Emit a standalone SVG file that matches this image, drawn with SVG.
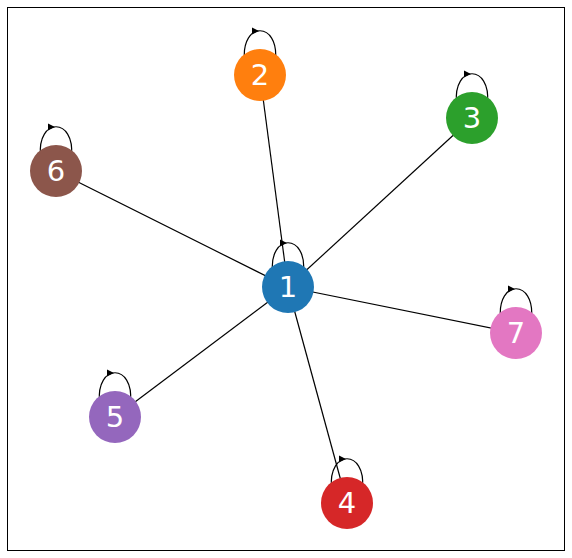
<svg xmlns="http://www.w3.org/2000/svg" width="572" height="558" viewBox="0 0 572 558">
<defs>
<style>
.edge{stroke:#000;stroke-width:1.2;fill:none}
.loop{stroke:#000;stroke-width:1.2;fill:none}
.lbl{font-family:"DejaVu Sans",sans-serif;font-size:29px;fill:#fff;text-anchor:middle;dominant-baseline:central}
</style>
<path id="loop" class="loop" d="M -15.5,-15 C -19,-54 19,-54 15.5,-15"/>
<path id="ah" d="M -7,-3.5 L 0,0 L -7,3.5 Z" fill="#000"/>
</defs>
<rect x="7.5" y="7.5" width="557" height="543" fill="#fff" stroke="#000" stroke-width="1"/>
<g id="connectors">
<line class="edge" x1="288" y1="287" x2="260" y2="75"/>
<line class="edge" x1="288" y1="287" x2="472" y2="118"/>
<line class="edge" x1="288" y1="287" x2="347" y2="503"/>
<line class="edge" x1="288" y1="287" x2="115" y2="417"/>
<line class="edge" x1="288" y1="287" x2="56" y2="171"/>
<line class="edge" x1="288" y1="287" x2="516" y2="333"/>
<g transform="translate(288,287)"><use href="#loop"/><use href="#ah" transform="translate(-1,-44)"/></g>
<g transform="translate(260,75)"><use href="#loop"/><use href="#ah" transform="translate(-1,-44)"/></g>
<g transform="translate(472,118)"><use href="#loop"/><use href="#ah" transform="translate(-1,-44)"/></g>
<g transform="translate(347,503)"><use href="#loop"/><use href="#ah" transform="translate(-1,-44)"/></g>
<g transform="translate(115,417)"><use href="#loop"/><use href="#ah" transform="translate(-1,-44)"/></g>
<g transform="translate(56,171)"><use href="#loop"/><use href="#ah" transform="translate(-1,-44)"/></g>
<g transform="translate(516,333)"><use href="#loop"/><use href="#ah" transform="translate(-1,-44)"/></g>
</g>
<g id="node1"><circle cx="288" cy="287" r="26" fill="#1f77b4"/><text class="lbl" x="288" y="287">1</text></g>
<g id="node2"><circle cx="260" cy="75" r="26" fill="#ff7f0e"/><text class="lbl" x="260" y="75">2</text></g>
<g id="node3"><circle cx="472" cy="118" r="26" fill="#2ca02c"/><text class="lbl" x="472" y="118">3</text></g>
<g id="node4"><circle cx="347" cy="503" r="26" fill="#d62728"/><text class="lbl" x="347" y="503">4</text></g>
<g id="node5"><circle cx="115" cy="417" r="26" fill="#9467bd"/><text class="lbl" x="115" y="417">5</text></g>
<g id="node6"><circle cx="56" cy="171" r="26" fill="#8c564b"/><text class="lbl" x="56" y="171">6</text></g>
<g id="node7"><circle cx="516" cy="333" r="26" fill="#e377c2"/><text class="lbl" x="516" y="333">7</text></g>
</svg>
